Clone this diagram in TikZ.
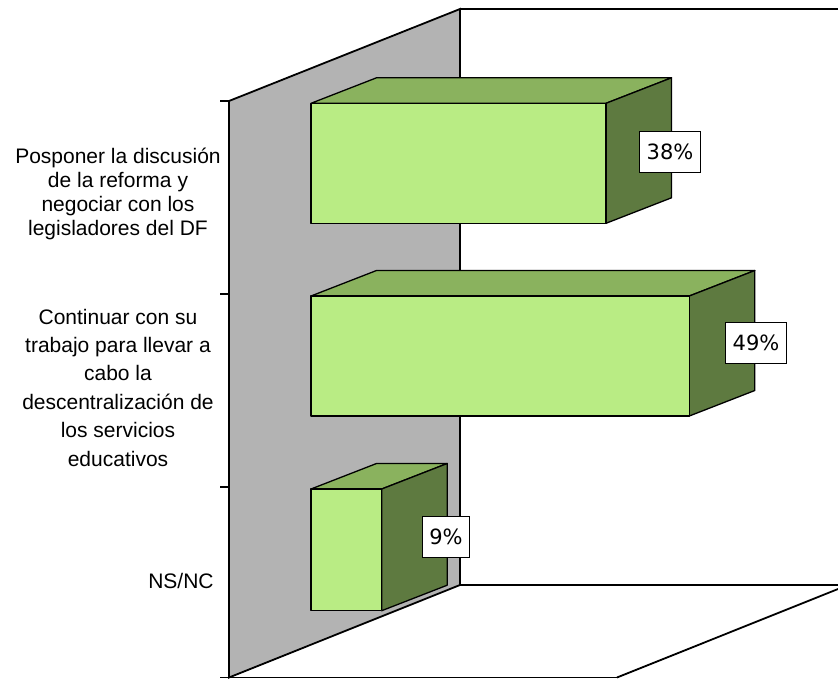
\documentclass[tikz,border=0pt]{standalone}
\usepackage{fontspec}
\setmainfont{Liberation Sans}
\newfontfamily\pctfont{DejaVu Sans}
\definecolor{barfront}{HTML}{B9EC84}
\definecolor{bartop}{HTML}{8AB25E}
\definecolor{barside}{HTML}{5E7A40}
\definecolor{wallgray}{HTML}{B3B3B3}
\tikzset{
  wall/.style={draw=black, line width=0.9pt, line join=miter},
  barline/.style={draw=black, line width=0.65pt, line join=round},
  catlabel/.style={align=center, inner sep=0pt, text=black},
  pct/.style={draw=black, fill=white, line width=0.5pt, font=\pctfont\fontsize{10.5}{12}\selectfont,
    inner xsep=3.4pt, inner ysep=0pt, minimum height=20.4pt}
}
\newcommand{\threedbar}[4]{%
  \filldraw[barline, fill=bartop] (#1,#2) -- ({#1+65.5},{#2-25.5}) -- ({#3+65.5},{#2-25.5}) -- (#3,#2) -- cycle;
  \filldraw[barline, fill=barside] (#3,#2) -- ({#3+65.5},{#2-25.5}) -- ({#3+65.5},{#4-25.5}) -- (#3,#4) -- cycle;
  \filldraw[barline, fill=barfront] (#1,#2) rectangle (#3,#4);
}
\begin{document}
\begin{tikzpicture}[x=0.5pt,y=-0.5pt]
\useasboundingbox (0,0) rectangle (838,679);
\clip (0,0) rectangle (838,679);
% walls
\filldraw[wall, fill=wallgray] (229,101) -- (460,9) -- (460,585) -- (229,677.5) -- cycle;
\draw[wall] (460,9) -- (850,9);
\draw[wall] (460,585) -- (848,585) -- (617,677.5);
\draw[wall] (229,677.5) -- (617,677.5);
% ticks
\draw[wall] (220,101) -- (229,101);
\draw[wall] (220,294) -- (229,294);
\draw[wall] (220,487) -- (229,487);
\draw[wall] (220,677.5) -- (229,677.5);
% bars
\threedbar{311}{103.3}{606}{223.3}
\threedbar{311}{296}{689.3}{416}
\threedbar{311}{489}{381.7}{610.7}
% value labels
\node[pct] (v1) at (670,152) {38\%};
\node[pct] (v2) at (756,342.7) {49\%};
\node[pct] (v3) at (446,537) {9\%};
% category labels
\node[catlabel, font=\fontsize{10.5}{12}\selectfont] (c1) at (118,193.5)
  {Posponer la discusión\\de la reforma y\\negociar con los\\legisladores del DF};
\node[catlabel, font=\fontsize{10.5}{14.2}\selectfont] (c2) at (118,387.5)
  {Continuar con su\\trabajo para llevar a\\cabo la\\descentralización de\\los servicios\\educativos};
\node[catlabel, anchor=east, font=\fontsize{10.5}{12}\selectfont] (c3) at (214,581) {NS/NC};
\end{tikzpicture}
\end{document}
